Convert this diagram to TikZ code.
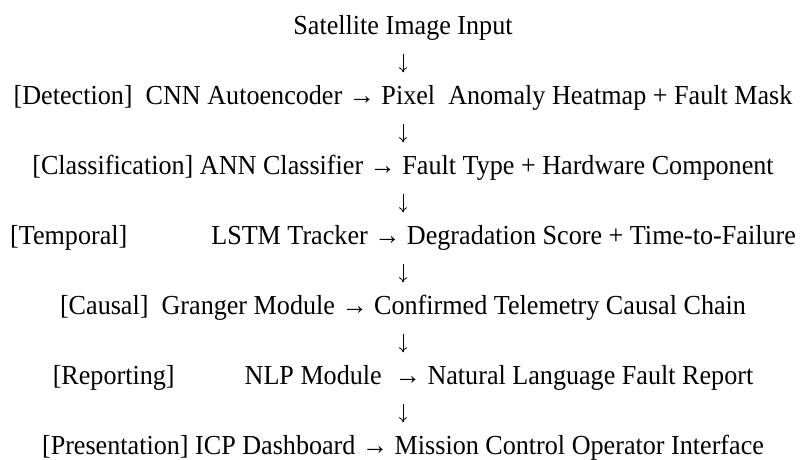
\documentclass[tikz,border=0pt]{standalone}
\usepackage{fontspec}
\setmainfont{Liberation Serif}[FakeStretch=0.95]
\usepackage{tikz}
\usetikzlibrary{arrows,arrows.meta,positioning}
\tikzstyle{textline} = [inner sep=0pt, text height=19pt, text depth=6pt,
    font=\fontsize{27.5}{32}\selectfont, node distance=70pt]
\tikzstyle{line} = [draw, line width=0.8pt, -{To[length=5pt,width=8pt]},
    shorten >=13pt, shorten <=13pt]

\begin{document}
\begin{tikzpicture}
    \useasboundingbox (0,0) rectangle (805pt,-460pt);
    % Place nodes

    \node [textline] at (403pt,-28pt) (satInput) {Satellite Image Input};
    \node [textline, below of=satInput] (detectLine) {[Detection]\ \ CNN Autoencoder → Pixel\ \ Anomaly Heatmap + Fault Mask};
    \node [textline, below of=detectLine] (classLine) {[Classification] ANN Classifier → Fault Type + Hardware Component};
    \node [textline, below of=classLine] (temporalLine) {[Temporal]\hspace{84pt}LSTM Tracker → Degradation Score + Time-to-Failure};
    \node [textline, below of=temporalLine] (causalLine) {[Causal]\ \ Granger Module → Confirmed Telemetry Causal Chain};
    \node [textline, below of=causalLine] (reportLine) {[Reporting]\hspace{70pt}NLP Module\ \ → Natural Language Fault Report};
    \node [textline, below of=reportLine] (presentLine) {[Presentation] ICP Dashboard → Mission Control Operator Interface};

    % Connectors
    \path [line] (satInput) -- (detectLine);
    \path [line] (detectLine) -- (classLine);
    \path [line] (classLine) -- (temporalLine);
    \path [line] (temporalLine) -- (causalLine);
    \path [line] (causalLine) -- (reportLine);
    \path [line] (reportLine) -- (presentLine);
\end{tikzpicture}
\end{document}
